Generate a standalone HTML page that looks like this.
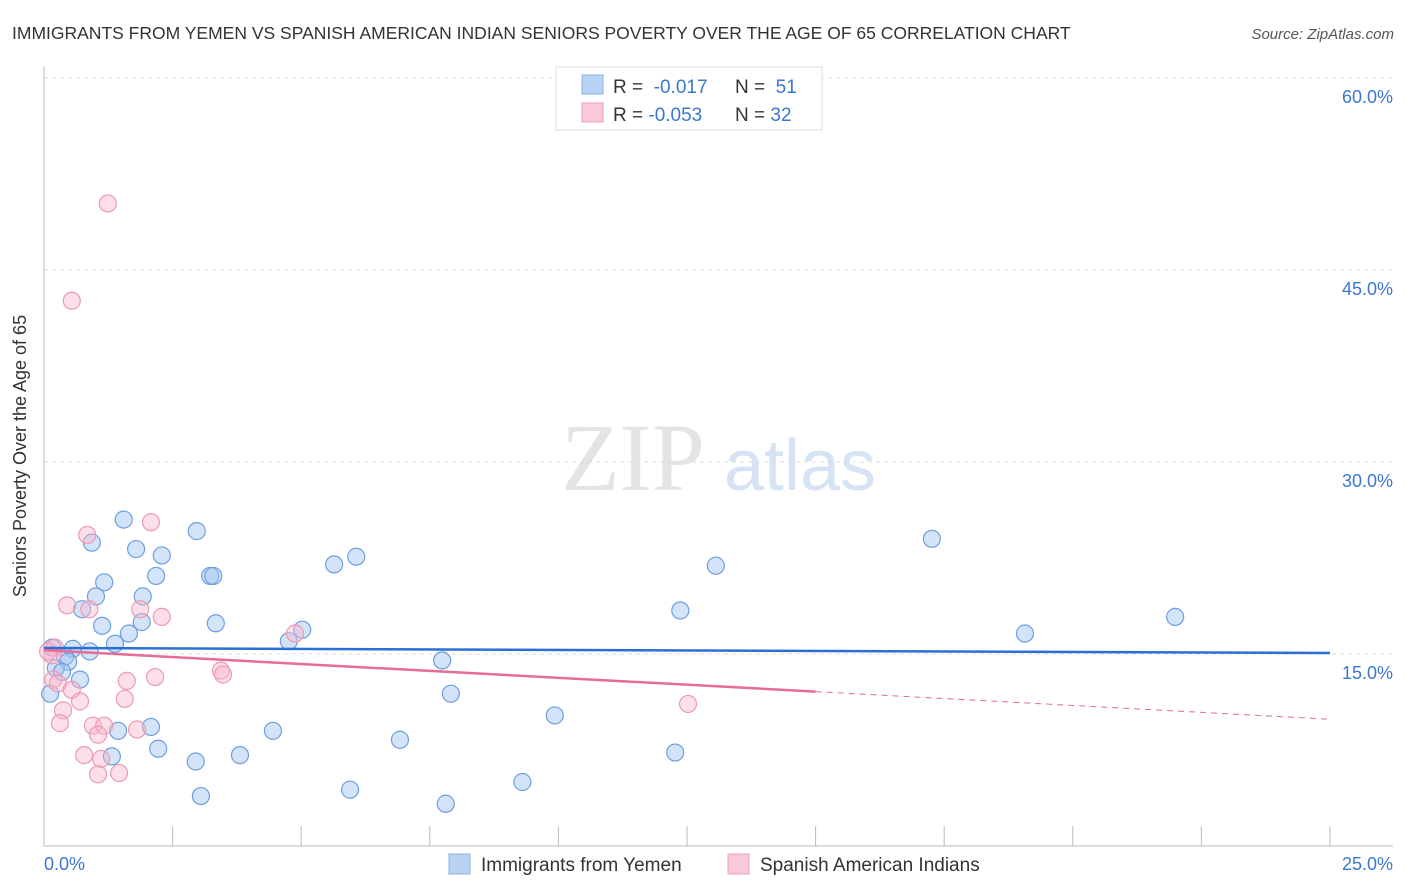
<!DOCTYPE html>
<html><head><meta charset="utf-8"><style>
body{margin:0;background:#fff;font-family:"Liberation Sans",sans-serif;}
svg{display:block}
</style></head><body>
<svg id="c" width="1406" height="892" xmlns="http://www.w3.org/2000/svg">
<text x="12" y="39" font-size="17.5" fill="#333">IMMIGRANTS FROM YEMEN VS SPANISH AMERICAN INDIAN SENIORS POVERTY OVER THE AGE OF 65 CORRELATION CHART</text>
<text x="1394" y="39" font-size="15" fill="#555" font-style="italic" text-anchor="end">Source: ZipAtlas.com</text>
<text x="26" y="456" font-size="18" fill="#333" text-anchor="middle" transform="rotate(-90 26 456)">Seniors Poverty Over the Age of 65</text>
<g>
<text x="633" y="490" font-size="96" font-family="Liberation Serif,serif" fill="#e4e4e4" text-anchor="middle">ZIP</text>
<text x="800" y="490" font-size="72" fill="#d6e3f5" text-anchor="middle">atlas</text>
</g>
<g id="grid"></g><g id="axes"></g><g id="pts"></g><g id="trend"></g>
<g>
<rect x="556" y="67" width="266" height="63" fill="#fff" stroke="#ddd"/>
<rect x="582" y="75" width="21" height="19" fill="#b9d3f5" stroke="#8ab0e6"/>
<rect x="582" y="103" width="21" height="19" fill="#f9c9d8" stroke="#ef9fb8"/>
<text x="613" y="93" font-size="19" fill="#333">R = <tspan fill="#3a78d0">&#160;-0.017</tspan><tspan x="735">N = </tspan><tspan fill="#3a78d0">&#160;51</tspan></text>
<text x="613" y="121" font-size="19" fill="#333">R = <tspan fill="#3a78d0">-0.053</tspan><tspan x="735">N = </tspan><tspan fill="#3a78d0">32</tspan></text>
</g>
<g>
<rect x="449" y="854" width="21" height="20" fill="#b9d3f5" stroke="#8ab0e6"/>
<text x="481" y="871" font-size="19" fill="#333">Immigrants from Yemen</text>
<rect x="728" y="854" width="21" height="20" fill="#f9c9d8" stroke="#ef9fb8"/>
<text x="760" y="871" font-size="19" fill="#333">Spanish American Indians</text>
</g>
</svg>
<script>
const yTicks=[15,30,45,60];
const yTickLabels=["15.0%","30.0%","45.0%","60.0%"];
const xTicks=[2.5,5,7.5,10,12.5,15,17.5,20,22.5,25];
const blueX=[1.55,0.93,1.79,2.29,2.97,2.18,3.23,3.29,1.17,1.01,1.92,0.74,1.9,3.34,1.13,1.65,1.38,0.16,0.56,0.89,0.41,0.47,0.23,0.35,0.7,0.12,1.44,2.08,1.32,2.22,2.95,3.81,3.05,4.45,5.64,6.07,5.02,4.76,5.95,6.92,7.74,7.91,7.81,9.3,9.93,12.27,12.37,13.06,17.26,19.07,21.99];
const blueY=[25.5,23.7,23.2,22.7,24.6,21.1,21.1,21.1,20.6,19.5,19.5,18.5,17.5,17.4,17.2,16.6,15.8,15.5,15.4,15.2,14.8,14.4,13.9,13.6,13.0,11.9,9.0,9.3,7.0,7.6,6.6,7.1,3.9,9.0,22.0,22.6,16.9,16.0,4.4,8.3,14.5,11.9,3.3,5.0,10.2,7.3,18.4,21.9,24.0,16.6,17.9];
const pinkX=[1.24,0.54,2.08,0.84,0.45,0.88,1.87,2.29,4.88,0.21,0.16,0.18,0.27,0.54,0.7,1.61,2.16,1.57,0.37,0.31,0.95,1.17,1.81,1.05,0.78,1.11,1.05,1.46,3.44,3.48,12.52,0.08];
const pinkY=[50.2,42.6,25.3,24.3,18.8,18.5,18.5,17.9,16.6,15.5,14.9,13.0,12.7,12.2,11.3,12.9,13.2,11.5,10.6,9.6,9.4,9.4,9.1,8.7,7.1,6.8,5.6,5.7,13.7,13.4,11.1,15.2];
const blueTrend=[15.47,15.08];
const pinkTrend=[15.3,9.9];
const pinkSolidEnd=15;
const NS="http://www.w3.org/2000/svg";
const X=v=>44+v*51.44, Y=v=>846-v*12.8;
function mk(t,a,p){const e=document.createElementNS(NS,t);for(const k in a)e.setAttribute(k,a[k]);p.appendChild(e);return e;}
const grid=document.getElementById('grid'),axes=document.getElementById('axes'),pts=document.getElementById('pts'),tr=document.getElementById('trend');
yTicks.forEach((v,i)=>{
 const l=mk('line',{x1:44,x2:1393,y1:Y(v),y2:Y(v),stroke:'#ddd','stroke-dasharray':'4,4'},grid);
 
 
 const t=mk('text',{x:1393,y:Y(v)+25,'font-size':18,fill:'#3a78d0','text-anchor':'end'},axes);
 t.textContent=yTickLabels[i];
 
 
});
const ax=mk('line',{x1:44,x2:1393,y1:846,y2:846,stroke:'#bbb'},axes);


const ay=mk('line',{x1:44,x2:44,y1:67,y2:846,stroke:'#bbb'},axes);


xTicks.forEach(v=>{
 const l=mk('line',{x1:X(v),x2:X(v),y1:826,y2:846,stroke:'#bbb'},axes);
 
 
});
const x0=mk('text',{x:44,y:870,'font-size':18,fill:'#3a78d0'},axes);x0.textContent='0.0%';


const x1=mk('text',{x:1393,y:870,'font-size':18,fill:'#3a78d0','text-anchor':'end'},axes);x1.textContent='25.0%';


blueX.forEach((v,i)=>{
 const c=mk('circle',{cx:X(v),cy:Y(blueY[i]),r:8.5,fill:'rgba(160,195,240,0.45)',stroke:'#6d9ee0','stroke-width':1.2},pts);
 
 
});
pinkX.forEach((v,i)=>{
 const c=mk('circle',{cx:X(v),cy:Y(pinkY[i]),r:8.5,fill:'rgba(248,185,205,0.45)',stroke:'#ec9ab5','stroke-width':1.2},pts);
 
 
});
const bl=mk('line',{x1:X(0),x2:X(25),y1:Y(blueTrend[0]),y2:Y(blueTrend[1]),stroke:'#2a6fd6','stroke-width':2.5},tr);


const pm=pinkTrend[0]+(pinkTrend[1]-pinkTrend[0])*pinkSolidEnd/25;
const pl=mk('line',{x1:X(0),x2:X(pinkSolidEnd),y1:Y(pinkTrend[0]),y2:Y(pm),stroke:'#e66b95','stroke-width':2.5},tr);


const pd=mk('line',{x1:X(pinkSolidEnd),x2:X(25),y1:Y(pm),y2:Y(pinkTrend[1]),stroke:'#e66b95','stroke-width':1,'stroke-dasharray':'6,5'},tr);


</script>
</body></html>
